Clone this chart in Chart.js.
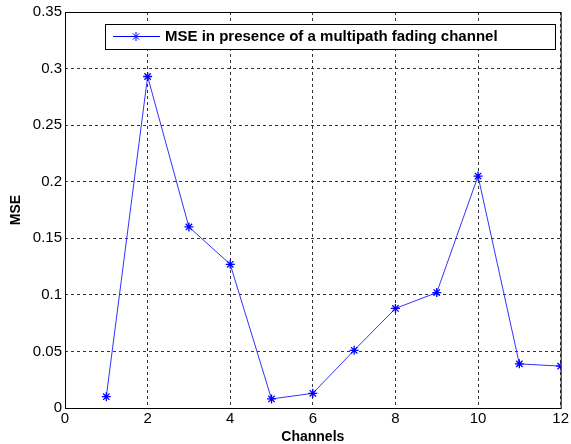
<!DOCTYPE html>
<html>
<head>
<meta charset="utf-8">
<script src="https://cdn.jsdelivr.net/npm/chart.js@4/dist/chart.umd.min.js"></script>
<style>
  html, body { margin: 0; padding: 0; background: #fff; }
  #wrap { width: 571px; height: 444px; }
</style>
</head>
<body>
<div id="wrap"><canvas id="chart" width="571" height="444"></canvas></div>
<script>
// data
const channels = [1, 2, 3, 4, 5, 6, 7, 8, 9, 10, 11, 12];
const mse = [0.010, 0.293, 0.160, 0.127, 0.008, 0.013, 0.051, 0.088, 0.102, 0.205, 0.039, 0.037];
const seriesLabel = 'MSE in presence of a multipath fading channel';
const xTicks = [0, 2, 4, 6, 8, 10, 12];
const yTicks = [0, 0.05, 0.1, 0.15, 0.2, 0.25, 0.3, 0.35];

const FONT = 'Arial, "Liberation Sans", sans-serif';

// box around plot + matlab style legend inside
const frame = {
  id: 'frame',
  afterDraw(chart) {
    const { ctx, chartArea: a } = chart;
    ctx.save();
    ctx.strokeStyle = '#000';
    ctx.lineWidth = 1;
    ctx.strokeRect(a.left + 0.5, a.top + 0.5, a.right - a.left, a.bottom - a.top);

    // legend
    const lx = 105, ly = 24, lw = 450, lh = 25;
    ctx.fillStyle = '#fff';
    ctx.fillRect(lx, ly, lw, lh);
    ctx.strokeRect(lx + 0.5, ly + 0.5, lw, lh);
    ctx.strokeStyle = '#0000ff';
    ctx.beginPath();
    ctx.moveTo(lx + 8, ly + 12.5);
    ctx.lineTo(lx + 55, ly + 12.5);
    ctx.stroke();
    Chart.helpers.drawPoint(ctx, { pointStyle: 'star', radius: 4.5, borderWidth: 1.3 }, lx + 31, ly + 12.5);
    ctx.fillStyle = '#000';
    ctx.font = 'bold 15px ' + FONT;
    ctx.textBaseline = 'middle';
    ctx.fillText(chart.data.datasets[0].label, lx + 60, ly + 13);
    ctx.restore();
  }
};

new Chart(document.getElementById('chart'), {
  type: 'line',
  data: {
    datasets: [{
      label: seriesLabel,
      data: channels.map((c, i) => ({ x: c, y: mse[i] })),
      borderColor: '#3333ff',
      backgroundColor: '#0000ff',
      borderWidth: 1,
      pointStyle: 'star',
      pointRadius: 4.5,
      pointBorderColor: '#0000ff',
      pointBorderWidth: 1.3,
      tension: 0
    }]
  },
  options: {
    responsive: false,
    animation: false,
    layout: { padding: { top: 10, right: 8, left: 0, bottom: 0 } },
    plugins: { legend: { display: false }, tooltip: { enabled: false } },
    scales: {
      x: {
        type: 'linear',
        min: 0, max: 12,
        afterBuildTicks: s => { s.ticks = xTicks.map(v => ({ value: v })); },
        afterFit: s => { s.height = 36; },
        grid: { color: '#333', drawTicks: false },
        border: { display: false, dash: [3, 3] },
        ticks: { color: '#000', font: { family: FONT, size: 15 }, padding: 2, maxRotation: 0 },
        title: { display: true, text: 'Channels', color: '#000', font: { family: FONT, size: 14, weight: 'bold', lineHeight: 1 }, padding: { top: 0, bottom: 0 } }
      },
      y: {
        min: 0, max: 0.35,
        afterBuildTicks: s => { s.ticks = yTicks.map(v => ({ value: v })); },
        afterFit: s => { s.width = 65; },
        grid: { color: '#333', drawTicks: false },
        border: { display: false, dash: [3, 3] },
        ticks: { color: '#000', font: { family: FONT, size: 15 }, padding: 3, callback: v => String(+v.toFixed(2)) },
        title: { display: true, text: 'MSE', color: '#000', font: { family: FONT, size: 14, weight: 'bold' }, padding: { top: 8, bottom: 0 } }
      }
    }
  },
  plugins: [frame]
});
</script>
</body>
</html>
